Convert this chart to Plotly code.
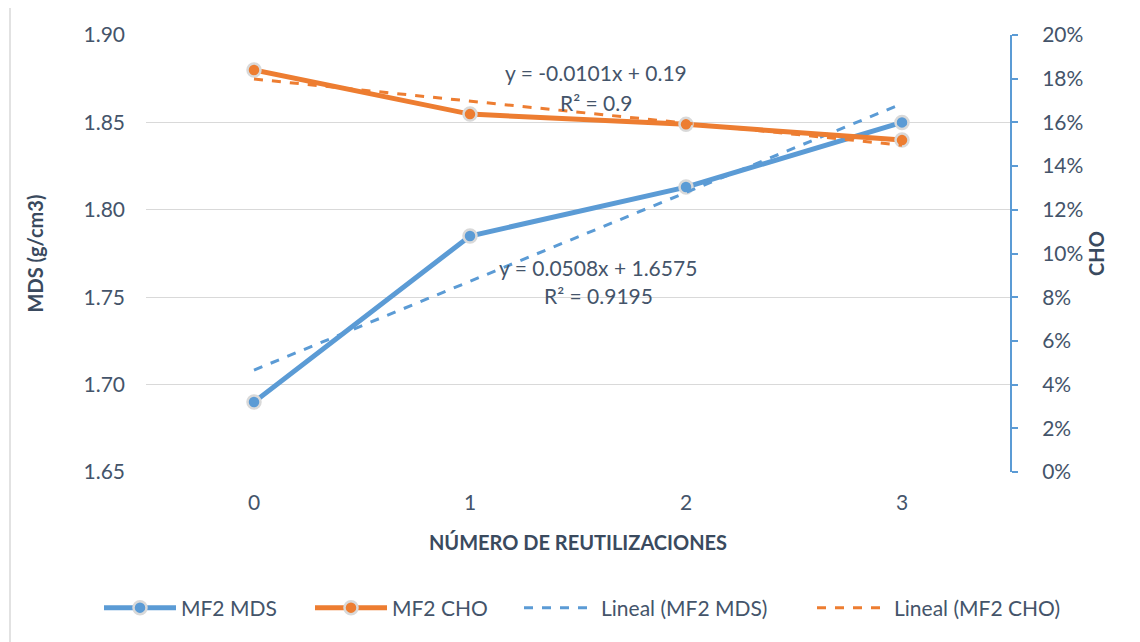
import numpy as np
import plotly.graph_objects as go

categories = [0, 1, 2, 3]
mds_values = [1.690, 1.785, 1.813, 1.850]
cho_values = [0.184, 0.1638, 0.1591, 0.1519]
left_ticks = [1.65, 1.70, 1.75, 1.80, 1.85, 1.90]
eq_mds = ["y = 0.0508x + 1.6575", "R² = 0.9195"]
eq_cho = ["y = -0.0101x + 0.19", "R² = 0.9"]

BLUE = "#5B9BD5"
ORANGE = "#ED7D31"
TXT = "#44546A"
TITLE = "#3A4A5E"
FONT = "Lato"

# page body has an 8px margin; plot area target (screen px): x 146..1010, y 35..472
OFF = 8
PL, PR, PT, PB = 146, 1010, 35, 472
PW, PH = PR - PL, PB - PT

def px(sx):
    return (sx - PL) / PW

def py(sy):
    return (PB - sy) / PH

xs = np.array(categories, dtype=float)
trend_x = xs + 1
m1, b1 = np.polyfit(trend_x, mds_values, 1)
m2, b2 = np.polyfit(trend_x, cho_values, 1)

fig = go.Figure()
fig.add_trace(go.Scatter(
    x=categories, y=mds_values, name="MF2 MDS", mode="lines+markers", legend="legend",
    line=dict(color=BLUE, width=5),
    marker=dict(size=13, color=BLUE, line=dict(color="#D9D9D9", width=2.5)),
))
fig.add_trace(go.Scatter(
    x=categories, y=cho_values, name="MF2 CHO", mode="lines+markers", yaxis="y2", legend="legend",
    line=dict(color=ORANGE, width=5),
    marker=dict(size=13, color=ORANGE, line=dict(color="#D9D9D9", width=2.5)),
))
fig.add_trace(go.Scatter(
    x=categories, y=list(m1 * trend_x + b1), name="Lineal (MF2 MDS)", mode="lines", legend="legend2",
    line=dict(color=BLUE, width=3, dash="dash"),
))
fig.add_trace(go.Scatter(
    x=categories, y=list(m2 * trend_x + b2), name="Lineal (MF2 CHO)", mode="lines", yaxis="y2",
    legend="legend2",
    line=dict(color=ORANGE, width=3, dash="dash"),
))

ann = []
for txt, y in zip(eq_cho, [1.8784, 1.8613]):
    ann.append(dict(x=1.583, y=y, xref="x", yref="y", text=txt, showarrow=False,
                    font=dict(family=FONT, size=21, color=TXT)))
for txt, y in zip(eq_mds, [1.767, 1.751]):
    ann.append(dict(x=1.593, y=y, xref="x", yref="y", text=txt, showarrow=False,
                    font=dict(family=FONT, size=21, color=TXT)))

leg_common = dict(orientation="h", yanchor="middle", y=py(608), xanchor="left",
                  font=dict(family=FONT, size=21, color=TXT), itemwidth=72,
                  entrywidthmode="pixels", bgcolor="rgba(0,0,0,0)", borderwidth=0)

fig.update_layout(
    width=1140, height=642,
    margin=dict(l=PL - OFF, r=1140 - (PR - OFF), t=PT - OFF, b=642 - (PB - OFF)),
    paper_bgcolor="white", plot_bgcolor="white",
    font=dict(family=FONT, size=21, color=TXT),
    showlegend=True,
    legend=dict(leg_common, x=px(99), entrywidth=124),
    legend2=dict(leg_common, x=px(519), entrywidth=206),
    xaxis=dict(range=[-0.5, 3.5], tickvals=categories, ticktext=[str(c) for c in categories],
               showgrid=False, zeroline=False, showline=False, ticks="",
               ticklabelstandoff=16,
               title=dict(text="<b>NÚMERO DE REUTILIZACIONES</b>", standoff=22,
                          font=dict(family=FONT, size=20, color=TITLE))),
    yaxis=dict(range=[1.65, 1.90], tickvals=left_ticks, tickformat=".2f",
               showgrid=True, gridcolor="#D9D9D9", gridwidth=1, zeroline=False,
               showline=False, ticks="", ticklabelstandoff=20,
               title=dict(text="<b>MDS (g/cm3)</b>", standoff=34,
                          font=dict(family=FONT, size=20, color=TITLE))),
    yaxis2=dict(range=[0, 0.20], dtick=0.02, tickformat=".0%", overlaying="y", side="right",
                showgrid=False, zeroline=False, showline=True, linecolor=BLUE, linewidth=2,
                ticks="outside", ticklen=6, tickcolor=BLUE, tickwidth=2, ticklabelstandoff=20,
                title=dict(text="<b>CHO</b>", standoff=8,
                           font=dict(family=FONT, size=20, color=TITLE))),
    yaxis3=dict(range=[0, 0.20], dtick=0.02, overlaying="y", side="right",
                showgrid=False, zeroline=False, showline=False, showticklabels=False,
                ticks="inside", ticklen=6, tickcolor=BLUE, tickwidth=2),
    annotations=ann,
    shapes=[dict(type="rect", xref="paper", yref="paper",
                 x0=px(10), x1=px(1160), y0=py(660), y1=py(5),
                 line=dict(color="#D9D9D9", width=1.5), layer="below")],
)

fig.write_html("out.html")
